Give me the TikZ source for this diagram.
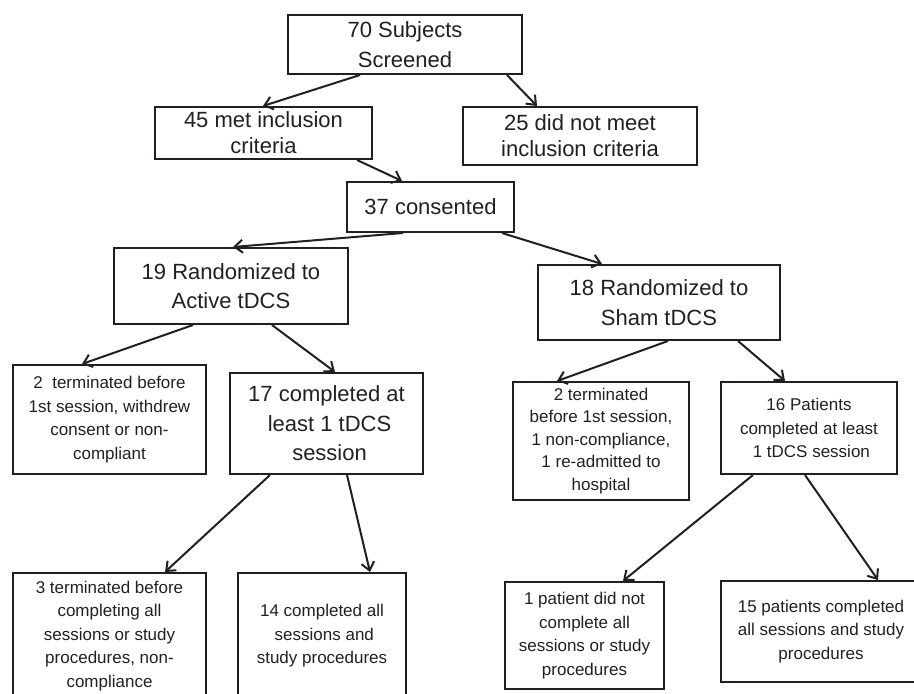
\documentclass[tikz,border=0pt]{standalone}
\usepackage{fontspec}
\setmainfont{Liberation Sans}
\usetikzlibrary{arrows.meta}
\definecolor{ink}{HTML}{231F20}
\tikzset{
  box/.style={draw=ink, text=ink, line width=2pt, inner sep=0pt, align=center, anchor=north west},
  bigtxt/.style={font=\fontsize{22}{29.5}\selectfont},
  midtxt/.style={font=\fontsize{22}{26}\selectfont},
  smalltxt/.style={font=\fontsize{17}{23.5}\selectfont},
  tighttxt/.style={font=\fontsize{17}{22.5}\selectfont},
  conn/.style={draw=ink, line width=2pt, -{Straight Barb[length=8pt,width=13pt]}}
}
\begin{document}
\begin{tikzpicture}[x=1pt,y=-1pt]
\useasboundingbox (0,0) rectangle (914,694);
% top
\node[box,bigtxt,minimum width=234pt,minimum height=59pt] (n70) at (287,14) {70 Subjects\\Screened};
\node[box,midtxt,minimum width=217pt,minimum height=52pt] (n45) at (154,106) {45 met inclusion\\criteria};
\node[box,midtxt,minimum width=234pt,minimum height=58pt] (n25) at (462,106) {25 did not meet\\inclusion criteria};
\node[box,bigtxt,minimum width=167pt,minimum height=50pt] (n37) at (346,181) {37 consented};
% arms
\node[box,bigtxt,minimum width=234pt,minimum height=76pt] (n19) at (113,247) {19 Randomized to\\Active tDCS};
\node[box,bigtxt,minimum width=242pt,minimum height=75pt] (n18) at (537,264) {18 Randomized to\\Sham tDCS};
% level 3
\node[box,smalltxt,minimum width=193pt,minimum height=109pt] (n2a) at (12,364) {2\ \ terminated before\\1st session, withdrew\\consent or non-\\compliant};
\node[box,bigtxt,minimum width=193pt,minimum height=101pt] (n17) at (229,372) {17 completed at\\\ least 1 tDCS\\\ session};
\node[box,tighttxt,minimum width=176pt,minimum height=118pt] (n2s) at (512,381) {2 terminated\\before 1st session,\\1 non-compliance,\\1 re-admitted to\\hospital};
\node[box,smalltxt,minimum width=176pt,minimum height=92pt] (n16) at (720,381) {16 Patients\\completed at least\\\ 1 tDCS session};
% level 4
\node[box,smalltxt,minimum width=193pt,minimum height=126pt] (n3) at (12,572) {3 terminated before\\completing all\\sessions or study\\procedures, non-\\compliance};
\node[box,smalltxt,minimum width=168pt,minimum height=126pt] (n14) at (237,572) {14 completed all\\\ sessions and\\study procedures};
\node[box,smalltxt,minimum width=159pt,minimum height=107pt] (n1) at (504,581) {1 patient did not\\complete all\\sessions or study\\procedures};
\node[box,smalltxt,minimum width=200pt,minimum height=101pt] (n15) at (720,580) {15 patients completed\\all sessions and study\\procedures};
% connectors
\draw[conn] ([xshift=73pt]n70.south west) -- ([xshift=109pt]n45.north west);
\draw[conn] ([xshift=-16pt]n70.south east) -- ([xshift=75pt]n25.north west);
\draw[conn] ([xshift=-16pt]n45.south east) -- ([xshift=56pt]n37.north west);
\draw[conn] ([xshift=57pt]n37.south west) -- ([xshift=120pt]n19.north west);
\draw[conn] ([xshift=-13pt]n37.south east) -- ([xshift=65pt]n18.north west);
\draw[conn] ([xshift=80pt]n19.south west) -- ([xshift=70pt]n2a.north west);
\draw[conn] ([xshift=159pt]n19.south west) -- ([xshift=106pt]n17.north west);
\draw[conn] ([xshift=131pt]n18.south west) -- ([xshift=45pt]n2s.north west);
\draw[conn] ([xshift=201pt]n18.south west) -- ([xshift=65pt]n16.north west);
\draw[conn] ([xshift=41pt]n17.south west) -- ([xshift=153pt]n3.north west);
\draw[conn] ([xshift=118pt]n17.south west) -- ([xshift=133pt]n14.north west);
\draw[conn] ([xshift=33pt]n16.south west) -- ([xshift=119pt]n1.north west);
\draw[conn] ([xshift=85pt]n16.south west) -- ([xshift=158pt]n15.north west);
\end{tikzpicture}
\end{document}
